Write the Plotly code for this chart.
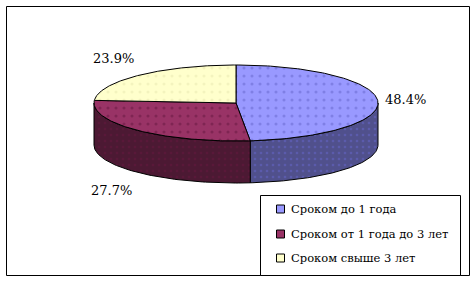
import numpy as np
import plotly.graph_objects as go

# ---- data ----
categories = ["Сроком до 1 года", "Сроком от 1 года до 3 лет", "Сроком свыше 3 лет"]
values = [48.4, 27.7, 23.9]
top_colors = ["#9999FF", "#993366", "#FFFFCC"]
dot_colors = ["#6666CC", "#66183F", "#E8E8B0"]
side_colors = ["#50508C", "#4C1933", "#B3B38F"]

# ---- geometry (pixels; axes map 1 unit = 1 px) ----
W, H = 476, 283
cx, cy = 236, 103
rx, ry = 142, 38
depth = 42
FONT = "DejaVu Serif, Liberation Serif, serif"


def pt(theta_deg, dy=0.0):
    t = np.radians(theta_deg)
    return cx + rx * np.sin(t), cy - ry * np.cos(t) + dy


fig = go.Figure()

total = sum(values)
starts = []
a = 0.0
for v in values:
    starts.append((a, a + 360.0 * v / total))
    a += 360.0 * v / total

# sides (front half: 90..270 degrees clockwise from 12 o'clock)
for i, (a0, a1) in enumerate(starts):
    s0, s1 = max(a0, 90.0), min(a1, 270.0)
    if s1 <= s0:
        continue
    th = np.linspace(s0, s1, 80)
    xs_top, ys_top = pt(th)
    xs_bot, ys_bot = pt(th[::-1], depth)
    xs = np.concatenate([xs_top, xs_bot, xs_top[:1]])
    ys = np.concatenate([ys_top, ys_bot, ys_top[:1]])
    fig.add_trace(go.Scatter(
        x=xs, y=ys, mode="lines", fill="toself",
        fillcolor=side_colors[i], line=dict(color="black", width=1),
        fillpattern=dict(shape=".", bgcolor=side_colors[i], fgcolor=dot_colors[i],
                         size=6, solidity=0.15),
        hoverinfo="skip", showlegend=False))

# tops
for i, (a0, a1) in enumerate(starts):
    th = np.linspace(a0, a1, 150)
    xa, ya = pt(th)
    xs = np.concatenate([[cx], xa, [cx]])
    ys = np.concatenate([[cy], ya, [cy]])
    fig.add_trace(go.Scatter(
        x=xs, y=ys, mode="lines", fill="toself",
        fillcolor=top_colors[i], line=dict(color="black", width=1),
        fillpattern=dict(shape=".", bgcolor=top_colors[i], fgcolor=dot_colors[i],
                         size=8, solidity=0.12),
        name=categories[i], hoverinfo="skip", showlegend=False))

# percentage labels
annotations = []
for i, (a0, a1) in enumerate(starts):
    mid = (a0 + a1) / 2
    s, c = np.sin(np.radians(mid)), np.cos(np.radians(mid))
    x, y = pt(mid, depth if c < 0 else 0)
    if s > 0:
        xanchor, x = "left", x + 5
    else:
        xanchor, x = "right", x - 3
    if c > 0.3:
        yanchor, y = "bottom", y - 7
    elif c < -0.3:
        yanchor, y = "top", y + 9
    else:
        yanchor, y = "middle", y - 2
    annotations.append(dict(
        x=x, y=y, xref="x", yref="y", text=f"{values[i]:.1f}%",
        showarrow=False, xanchor=xanchor, yanchor=yanchor,
        font=dict(family=FONT, size=13, color="black")))

# legend (manual, Excel style)
shapes = [
    dict(type="rect", xref="x", yref="y", x0=6.5, y0=6.5, x1=469.5, y1=275.5,
         line=dict(color="black", width=1), fillcolor="rgba(0,0,0,0)", layer="below"),
    dict(type="rect", xref="x", yref="y", x0=260.5, y0=195.5, x1=460.5, y1=275.5,
         line=dict(color="black", width=1), fillcolor="white"),
]
row_y = [209, 234, 258]
for i, name in enumerate(categories):
    shapes.append(dict(type="rect", xref="x", yref="y",
                       x0=276.5, x1=284.5, y0=row_y[i] - 4, y1=row_y[i] + 4,
                       line=dict(color="black", width=1), fillcolor=top_colors[i]))
    annotations.append(dict(
        x=289, y=row_y[i], xref="x", yref="y", text=name, showarrow=False,
        xanchor="left", yanchor="middle",
        font=dict(family=FONT, size=11.5, color="black")))

fig.update_layout(
    width=W, height=H, autosize=False,
    margin=dict(l=0, r=0, t=0, b=0),
    paper_bgcolor="white", plot_bgcolor="white",
    font=dict(family=FONT),
    xaxis=dict(range=[0, W], visible=False, fixedrange=True),
    yaxis=dict(range=[H, 0], visible=False, fixedrange=True),
    shapes=shapes, annotations=annotations, showlegend=False,
)

fig.write_html("out.html")
